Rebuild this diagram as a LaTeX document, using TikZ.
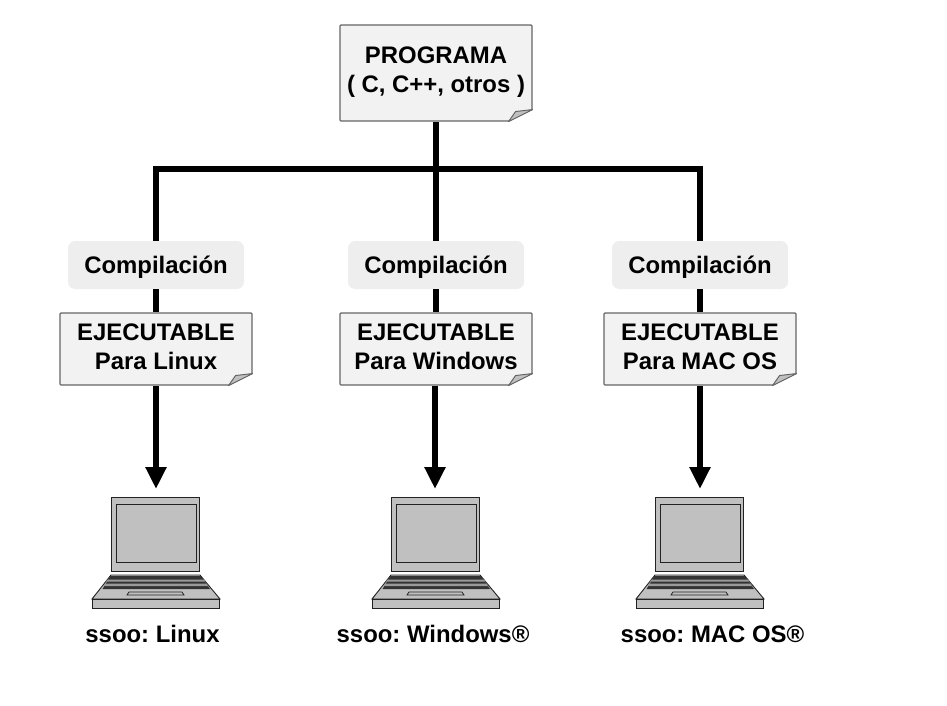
\documentclass[tikz,border=0pt]{standalone}
\usepackage{fontspec}
\setmainfont{Liberation Sans}
\usetikzlibrary{arrows.meta}
\frenchspacing
\definecolor{boxedge}{HTML}{666666}
\definecolor{boxfill}{HTML}{F2F2F2}
\definecolor{compfill}{HTML}{EEEEEE}
\definecolor{lapfill}{HTML}{C0C0C0}
\definecolor{lapedge}{HTML}{222222}
\definecolor{keydark}{HTML}{333333}
\definecolor{keylight}{HTML}{9A9A9A}
\newcommand{\nudge}[2]{\raisebox{#1}[\height][\depth]{#2}}
\tikzset{
  x=1pt,y=-1pt,
  every node/.style={font=\fontsize{23.9}{29}\selectfont\bfseries},
  docbox/.style={draw=boxedge,line width=1.1pt,fill=boxfill,rounded corners=1pt,minimum width=192pt,align=center,inner sep=0pt},
  compbox/.style={fill=compfill,rounded corners=7pt,minimum width=176pt,minimum height=48pt,inner sep=0pt},
  oslabel/.style={inner sep=0pt,anchor=base},
  wire/.style={line width=6pt,black},
  arrowwire/.style={line width=6pt,black,-{Triangle[length=22pt,width=20pt]}},
  lapline/.style={draw=lapedge,line width=0.9pt,fill=lapfill,line join=miter},
}
\newcommand{\foldcorner}[1]{%
  \fill[white] ([shift={(-24.5,0.6)}]#1.south east) -- ([shift={(0.6,0.6)}]#1.south east) -- ([shift={(0.6,-12.5)}]#1.south east) -- cycle;
  \draw[draw=boxedge,line width=1pt,fill=lapfill,line join=round] ([shift={(-24,0)}]#1.south east) -- ([shift={(-17,-10)}]#1.south east) -- ([shift={(0,-12)}]#1.south east) -- cycle;
}
\newcommand{\lapdraw}[2]{%
  \coordinate (#1) at (#2+64,497);
  \begin{scope}[shift={(#2,497)}]
    \draw[lapline] (19,0) rectangle (107,74);
    \draw[lapline] (24,7) rectangle (104,65);
    \draw[lapline] (19,78) -- (108,78) -- (128,102) -- (0,102) -- cycle;
    \draw[lapline] (0,102) rectangle (127.5,111);
    \fill[keydark] (18.5,79) -- (109,79) -- (118,92) -- (10.5,92) -- cycle;
    \fill[keylight] (15.5,82.5) -- (112,82.5) -- (113.5,84.7) -- (14,84.7) -- cycle;
    \fill[keylight] (13,86.7) -- (114.5,86.7) -- (116,89) -- (11.5,89) -- cycle;
    \draw[lapline,line width=0.8pt] (37,95) -- (90,95) -- (92,98) -- (35,98) -- cycle;
  \end{scope}
}
\begin{document}
\begin{tikzpicture}
\useasboundingbox (0,0) rectangle (947,706);
\node[docbox,minimum height=96pt] (prog) at (436,73) {\nudge{1pt}{PROGRAMA}\\\nudge{1pt}{( C, C++, otros )}};
\coordinate (busm) at (436,168.5);
\coordinate (busl) at (156,168.5);
\coordinate (busr) at (700,168.5);
\node[compbox] (c1) at (156,265) {\nudge{-2pt}{Compilación}};
\node[compbox] (c2) at (436,265) {\nudge{-2pt}{Compilación}};
\node[compbox] (c3) at (700,265) {\nudge{-2pt}{Compilación}};
\node[docbox,minimum height=72pt] (e1) at (156,349) {\nudge{2pt}{EJECUTABLE}\\\nudge{2pt}{Para Linux}};
\node[docbox,minimum height=72pt] (e2) at (436,349) {\nudge{2pt}{EJECUTABLE}\\\nudge{2pt}{Para Windows}};
\node[docbox,minimum height=72pt] (e3) at (700,349) {\nudge{2pt}{EJECUTABLE}\\\nudge{2pt}{Para MAC OS}};
\foldcorner{prog}\foldcorner{e1}\foldcorner{e2}\foldcorner{e3}
\lapdraw{l1}{92}\lapdraw{l2}{372}\lapdraw{l3}{636}
\node[oslabel] (s1) at (152.5,642) {ssoo: Linux};
\node[oslabel] (s2) at (433,642) {ssoo: Windows®};
\node[oslabel] (s3) at (712.5,642) {ssoo: MAC OS®};
\draw[wire] (prog.south) -- (busm);
\draw[wire,line cap=butt] ([xshift=-3pt]busl) -- ([xshift=3pt]busr);
\draw[wire] (busm) -- (c2.north);
\draw[wire] ([yshift=3pt]busl) -- (c1.north);
\draw[wire] ([yshift=3pt]busr) -- (c3.north);
\draw[wire] (c1.south) -- (e1.north);
\draw[wire] (c2.south) -- (e2.north);
\draw[wire] (c3.south) -- (e3.north);
\draw[arrowwire] (e1.south) -- ([yshift=8pt]l1);
\draw[arrowwire] ([xshift=-1pt]e2.south) -- ([xshift=-1pt,yshift=8pt]l2);
\draw[arrowwire] (e3.south) -- ([yshift=8pt]l3);
\end{tikzpicture}
\end{document}
